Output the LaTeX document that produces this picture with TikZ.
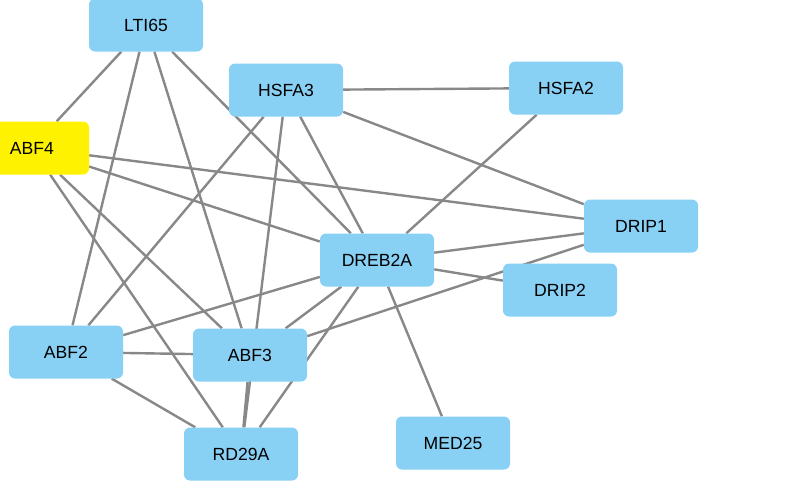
\documentclass[tikz,border=0pt]{standalone}
\usepackage{fontspec}
\setmainfont{Liberation Sans}
\usetikzlibrary{backgrounds}
\definecolor{genefill}{RGB}{137,208,245}
\definecolor{edgegray}{RGB}{136,136,136}

\begin{document}
\begin{tikzpicture}[x=1pt,y=-1pt,
  gene/.style={fill=genefill,rounded corners=6pt,minimum width=114pt,minimum height=53pt,inner sep=0pt,font=\fontsize{17.6}{20}\selectfont},
  query/.style={gene,fill=yellow},
  link/.style={draw=edgegray,line width=2.4pt}]
\useasboundingbox (0,0) rectangle (795,499);
\node[gene] (lti65) at (146,25) {LTI65};
\node[gene] (hsfa3) at (286,90) {HSFA3};
\node[gene] (hsfa2) at (566,88) {HSFA2};
\node[query] (abf4) at (32,148) {ABF4};
\node[gene] (drip1) at (641,226) {DRIP1};
\node[gene] (dreb2a) at (377,260) {DREB2A};
\node[gene] (drip2) at (560,290) {DRIP2};
\node[gene] (abf2) at (66,352) {ABF2};
\node[gene] (abf3) at (250,355) {ABF3};
\node[gene] (rd29a) at (241,454) {RD29A};
\node[gene] (med25) at (453,443) {MED25};
\begin{scope}[on background layer]
\draw[link] (lti65) -- (abf4);
\draw[link] (lti65) -- (abf2);
\draw[link] (lti65) -- (abf3);
\draw[link] (lti65) -- (dreb2a);
\draw[link] (hsfa3) -- (hsfa2);
\draw[link] (hsfa3) -- (drip1);
\draw[link] (hsfa3) -- (abf2);
\draw[link] (hsfa3) -- (dreb2a);
\draw[link] (hsfa3) -- (rd29a);
\draw[link] (hsfa2) -- (dreb2a);
\draw[link] (abf4) -- (drip1);
\draw[link] (abf4) -- (dreb2a);
\draw[link] (abf4) -- (abf3);
\draw[link] (abf4) -- (rd29a);
\draw[link] (dreb2a) -- (drip1);
\draw[link] (dreb2a) -- (drip2);
\draw[link] (dreb2a) -- (med25);
\draw[link] (dreb2a) -- (abf2);
\draw[link] (dreb2a) -- (abf3);
\draw[link] (dreb2a) -- (rd29a);
\draw[link] (abf3) -- (drip1);
\draw[link] (abf2) -- (abf3);
\draw[link] (abf2) -- (rd29a);
\draw[link] (abf3) -- (rd29a);
\end{scope}
\end{tikzpicture}
\end{document}
